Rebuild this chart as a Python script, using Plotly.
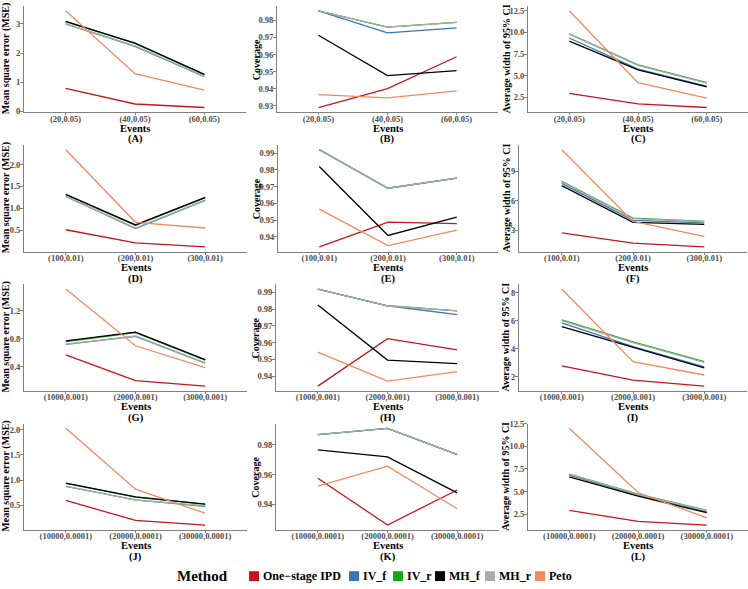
import plotly.graph_objects as go

methods = ["One\u2212stage IPD", "IV_f", "IV_r", "MH_f", "MH_r", "Peto"]
colors = ["#C4161C", "#3A77B5", "#16A516", "#000000", "#ABABAB", "#F4895F"]

cats_1 = ["(20,0.05)", "(40,0.05)", "(60,0.05)"]
cats_2 = ["(100,0.01)", "(200,0.01)", "(300,0.01)"]
cats_3 = ["(1000,0.001)", "(2000,0.001)", "(3000,0.001)"]
cats_4 = ["(10000,0.0001)", "(20000,0.0001)", "(30000,0.0001)"]

# order of rows in each panel: One-stage IPD, IV_f, IV_r, MH_f, MH_r, Peto
panel_A = [[0.79, 0.25, 0.13], [3.00, 2.23, 1.19], [3.08, 2.33, 1.26],
           [3.09, 2.34, 1.27], [3.01, 2.25, 1.20], [3.45, 1.29, 0.73]]
panel_B = [[0.929, 0.940, 0.9587], [0.9856, 0.9727, 0.9756], [0.9856, 0.976, 0.9788],
           [0.9713, 0.9477, 0.9506], [0.9856, 0.976, 0.9788], [0.9365, 0.9346, 0.9387]]
panel_C = [[2.95, 1.74, 1.33], [9.36, 5.76, 3.79], [9.85, 6.25, 4.20],
           [9.00, 5.68, 3.71], [9.80, 6.20, 4.15], [12.5, 4.2, 2.42]]
panel_D = [[0.51, 0.21, 0.12], [1.27, 0.54, 1.18], [1.31, 0.61, 1.24],
           [1.32, 0.62, 1.25], [1.28, 0.55, 1.19], [2.34, 0.68, 0.55]]
panel_E = [[0.934, 0.9488, 0.9479], [0.992, 0.969, 0.975], [0.992, 0.969, 0.975],
           [0.982, 0.9408, 0.9518], [0.992, 0.969, 0.975], [0.9565, 0.9347, 0.9439]]
panel_F = [[2.73, 1.68, 1.31], [7.77, 4.00, 3.74], [7.97, 4.23, 3.90],
           [7.54, 3.80, 3.60], [7.92, 4.18, 3.86], [11.19, 3.90, 2.37]]
panel_G = [[0.57, 0.20, 0.12], [0.72, 0.835, 0.45], [0.76, 0.89, 0.495],
           [0.77, 0.895, 0.50], [0.725, 0.84, 0.455], [1.515, 0.70, 0.386]]
panel_H = [[0.934, 0.9624, 0.9557], [0.992, 0.982, 0.9767], [0.992, 0.982, 0.979],
           [0.9824, 0.9496, 0.9475], [0.992, 0.982, 0.979], [0.9543, 0.937, 0.9427]]
panel_I = [[2.78, 1.75, 1.32], [5.86, 4.16, 2.71], [6.07, 4.49, 3.08],
           [5.58, 4.09, 2.63], [6.02, 4.44, 3.03], [8.28, 3.08, 2.12]]
panel_J = [[0.595, 0.196, 0.105], [0.875, 0.605, 0.475], [0.935, 0.66, 0.515],
           [0.94, 0.667, 0.52], [0.88, 0.60, 0.49], [2.03, 0.82, 0.34]]
panel_K = [[0.9576, 0.9262, 0.9497], [0.9868, 0.991, 0.9734], [0.9868, 0.991, 0.9736],
           [0.9765, 0.9719, 0.9477], [0.9868, 0.991, 0.9736], [0.9523, 0.9657, 0.9371]]
panel_L = [[2.93, 1.70, 1.30], [6.82, 4.60, 2.75], [6.93, 4.71, 2.93],
           [6.64, 4.50, 2.66], [6.90, 4.68, 2.88], [12.0, 4.9, 2.1]]

panels = [panel_A, panel_B, panel_C, panel_D, panel_E, panel_F,
          panel_G, panel_H, panel_I, panel_J, panel_K, panel_L]
row_cats = [cats_1, cats_2, cats_3, cats_4]
letters = ["A", "B", "C", "D", "E", "F", "G", "H", "I", "J", "K", "L"]
y_titles = ["Mean square error (MSE)", "Coverage", "Average width of 95% CI"]
legend_title = "Method"

# tick settings per panel: (tick0, dtick, format)
tick_specs = [
    (0, 1, "d"), (0.93, 0.01, ".2f"), (2.5, 2.5, ".1f"),
    (0.5, 0.5, ".1f"), (0.94, 0.01, ".2f"), (3, 3, "d"),
    (0.4, 0.4, ".1f"), (0.94, 0.01, ".2f"), (2, 2, "d"),
    (0.5, 0.5, ".1f"), (0.94, 0.02, ".2f"), (2.5, 2.5, ".1f"),
]

W, H = 748, 589
# per-panel horizontal extent of the plotting area (pixels)
panel_x_px = [(24, 246), (277, 498), (528, 748),
              (24, 247), (278, 498), (519, 747),
              (24, 247), (276, 499), (519, 747),
              (24, 247), (276, 499), (528, 748)]
row_px = [(1, 109), (142, 250.5), (283.5, 392), (425, 533)]
ytitle_x_px = [6, 256, 506]
# legend layout (pixels): key left edges, row centre
legend_key_x = [249, 349, 393, 435, 485, 535]
legend_y = 580
legend_title_x = 202

FONT = "Liberation Serif"
AX_COL = "#808080"
TICK_COL = "#4D4D4D"

fig = go.Figure()
layout = dict(
    width=W, height=H, margin=dict(l=0, r=0, t=0, b=0),
    paper_bgcolor="white", plot_bgcolor="white",
    font=dict(family=FONT, color="black"),
    showlegend=False,
)
annotations = []
shapes = []

for i, data in enumerate(panels):
    r, c = divmod(i, 3)
    n = i + 1
    xs = row_cats[r]
    xname = "x" if n == 1 else f"x{n}"
    yname = "y" if n == 1 else f"y{n}"
    for m, vals in enumerate(data):
        fig.add_trace(go.Scatter(
            x=xs, y=vals, mode="lines", xaxis=xname, yaxis=yname,
            line=dict(color=colors[m], width=1.3), showlegend=False,
            name=methods[m], hoverinfo="x+y+name",
        ))
    allv = [v for s in data for v in s]
    lo, hi = min(allv), max(allv)
    pad = 0.05 * (hi - lo)
    t0, dt, fmt = tick_specs[i]
    x0, x1 = panel_x_px[i]
    ytop, ybot = row_px[r]
    axcommon = dict(
        showline=True, linecolor=AX_COL, linewidth=1, ticks="outside",
        tickcolor=AX_COL, tickwidth=1, showgrid=False, zeroline=False,
        fixedrange=True,
    )
    layout["xaxis" if n == 1 else f"xaxis{n}"] = dict(
        domain=[x0 / W, min(x1 / W, 1.0)], anchor=yname, type="category",
        range=[-0.6, 2.6], ticklen=2, ticklabelstandoff=-4,
        tickfont=dict(family=FONT, size=8.5, color=TICK_COL, weight="bold"),
        **axcommon)
    layout["yaxis" if n == 1 else f"yaxis{n}"] = dict(
        domain=[1 - ybot / H, 1 - ytop / H], anchor=xname,
        range=[lo - pad, hi + pad], tick0=t0, dtick=dt, tickformat=fmt,
        ticklen=3, ticklabelstandoff=-2,
        tickfont=dict(family=FONT, size=8.5, color=TICK_COL, weight="bold"),
        **axcommon)
    xc = (x0 + x1) / 2 / W
    annotations.append(dict(
        text="<b>Events</b>", xref="paper", yref="paper", x=xc,
        y=1 - (ybot + 16) / H, xanchor="center", yanchor="middle",
        showarrow=False, font=dict(family=FONT, size=10.5, color="black")))
    annotations.append(dict(
        text=f"<b>({letters[i]})</b>", xref="paper", yref="paper", x=xc,
        y=1 - (ybot + 27.5) / H, xanchor="center", yanchor="middle",
        showarrow=False, font=dict(family=FONT, size=10.5, color="black")))
    annotations.append(dict(
        text=f"<b>{y_titles[c]}</b>", xref="paper", yref="paper",
        x=ytitle_x_px[c] / W, y=1 - (ytop + ybot) / 2 / H,
        xanchor="center", yanchor="middle", textangle=-90, showarrow=False,
        font=dict(family=FONT, size=10, color="black")))

# manual legend with square keys
annotations.append(dict(
    text=f"<b>{legend_title}</b>", xref="paper", yref="paper",
    x=legend_title_x / W, y=1 - legend_y / H, xanchor="center", yanchor="middle",
    showarrow=False, font=dict(family=FONT, size=15, color="black")))
for m, name in enumerate(methods):
    kx = legend_key_x[m]
    shapes.append(dict(
        type="rect", xref="paper", yref="paper",
        x0=kx / W, x1=(kx + 10) / W,
        y0=1 - (legend_y + 5) / H, y1=1 - (legend_y - 5) / H,
        fillcolor=colors[m], line=dict(width=0)))
    annotations.append(dict(
        text=f"<b>{name}</b>", xref="paper", yref="paper",
        x=(kx + 12) / W, y=1 - legend_y / H, xanchor="left", yanchor="middle",
        showarrow=False, font=dict(family=FONT, size=12, color="black")))

layout["annotations"] = annotations
layout["shapes"] = shapes
fig.update_layout(**layout)
fig.write_html("out.html", config={"displayModeBar": False},
               post_script="document.body.style.margin='0px';")
